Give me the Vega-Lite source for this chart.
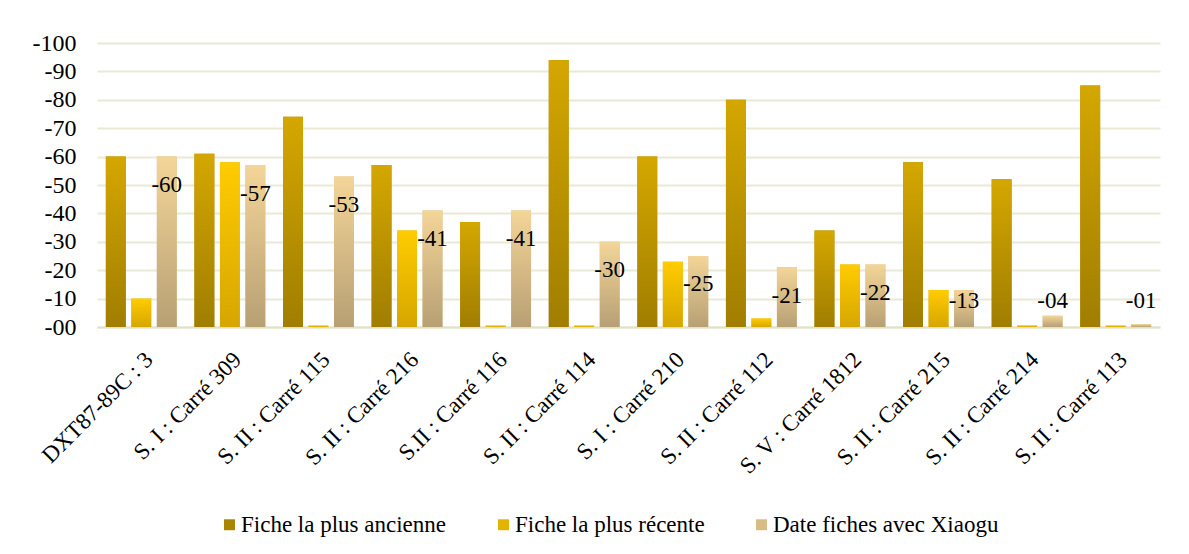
{
  "$schema": "https://vega.github.io/schema/vega-lite/v6.json",
  "width": 1063,
  "height": 284,
  "autosize": {"type": "none"},
  "padding": {"left": 97, "top": 43, "right": 29, "bottom": 227},
  "background": "white",
  "config": {
    "view": {"stroke": null},
    "font": "'Liberation Serif', 'Times New Roman', serif",
    "text": {"font": "'Liberation Serif', 'Times New Roman', serif"}
  },
  "data": {
    "values": [
      {"cat": "DXT87-89C : 3", "series": "Fiche la plus ancienne", "value": 60},
      {"cat": "DXT87-89C : 3", "series": "Fiche la plus récente", "value": 10},
      {"cat": "DXT87-89C : 3", "series": "Date fiches avec Xiaogu", "value": 60},
      {"cat": "S. I : Carré 309", "series": "Fiche la plus ancienne", "value": 61},
      {"cat": "S. I : Carré 309", "series": "Fiche la plus récente", "value": 58},
      {"cat": "S. I : Carré 309", "series": "Date fiches avec Xiaogu", "value": 57},
      {"cat": "S. II : Carré 115", "series": "Fiche la plus ancienne", "value": 74},
      {"cat": "S. II : Carré 115", "series": "Fiche la plus récente", "value": 0.5},
      {"cat": "S. II : Carré 115", "series": "Date fiches avec Xiaogu", "value": 53},
      {"cat": "S. II : Carré 216", "series": "Fiche la plus ancienne", "value": 57},
      {"cat": "S. II : Carré 216", "series": "Fiche la plus récente", "value": 34},
      {"cat": "S. II : Carré 216", "series": "Date fiches avec Xiaogu", "value": 41},
      {"cat": "S.II : Carré 116", "series": "Fiche la plus ancienne", "value": 37},
      {"cat": "S.II : Carré 116", "series": "Fiche la plus récente", "value": 0.5},
      {"cat": "S.II : Carré 116", "series": "Date fiches avec Xiaogu", "value": 41},
      {"cat": "S. II : Carré 114", "series": "Fiche la plus ancienne", "value": 94},
      {"cat": "S. II : Carré 114", "series": "Fiche la plus récente", "value": 0.5},
      {"cat": "S. II : Carré 114", "series": "Date fiches avec Xiaogu", "value": 30},
      {"cat": "S. I : Carré 210", "series": "Fiche la plus ancienne", "value": 60},
      {"cat": "S. I : Carré 210", "series": "Fiche la plus récente", "value": 23},
      {"cat": "S. I : Carré 210", "series": "Date fiches avec Xiaogu", "value": 25},
      {"cat": "S. II : Carré 112", "series": "Fiche la plus ancienne", "value": 80},
      {"cat": "S. II : Carré 112", "series": "Fiche la plus récente", "value": 3},
      {"cat": "S. II : Carré 112", "series": "Date fiches avec Xiaogu", "value": 21},
      {"cat": "S. V : Carré 1812", "series": "Fiche la plus ancienne", "value": 34},
      {"cat": "S. V : Carré 1812", "series": "Fiche la plus récente", "value": 22},
      {"cat": "S. V : Carré 1812", "series": "Date fiches avec Xiaogu", "value": 22},
      {"cat": "S. II : Carré 215", "series": "Fiche la plus ancienne", "value": 58},
      {"cat": "S. II : Carré 215", "series": "Fiche la plus récente", "value": 13},
      {"cat": "S. II : Carré 215", "series": "Date fiches avec Xiaogu", "value": 13},
      {"cat": "S. II : Carré 214", "series": "Fiche la plus ancienne", "value": 52},
      {"cat": "S. II : Carré 214", "series": "Fiche la plus récente", "value": 0.5},
      {"cat": "S. II : Carré 214", "series": "Date fiches avec Xiaogu", "value": 4},
      {"cat": "S. II : Carré 113", "series": "Fiche la plus ancienne", "value": 85},
      {"cat": "S. II : Carré 113", "series": "Fiche la plus récente", "value": 0.5},
      {"cat": "S. II : Carré 113", "series": "Date fiches avec Xiaogu", "value": 1}
    ]
  },
  "encoding": {
    "x": {
      "field": "cat", "type": "nominal", "sort": null, "title": null,
      "scale": {"paddingInner": 0.2, "paddingOuter": 0.1},
      "axis": {
        "labelAngle": -45, "labelFont": "'Liberation Serif', 'Times New Roman', serif", "labelFontSize": 23,
        "labelColor": "#000000", "labelPadding": 21, "ticks": false, "labelLimit": 0,
        "domainColor": "#E3E0C8", "domainWidth": 2, "labelAlign": "right", "labelBaseline": "top"
      }
    },
    "xOffset": {
      "field": "series", "type": "nominal", "sort": null,
      "scale": {"domain": ["Fiche la plus ancienne", "Fiche la plus récente", "Date fiches avec Xiaogu"], "paddingInner": 0.22, "paddingOuter": 0}
    },
    "y": {
      "field": "value", "type": "quantitative", "title": null,
      "scale": {"domain": [0, 100], "nice": false},
      "axis": {
        "values": [0, 10, 20, 30, 40, 50, 60, 70, 80, 90, 100],
        "labelExpr": "'-' + (datum.value < 10 ? '0' : '') + datum.value",
        "labelFont": "'Liberation Serif', 'Times New Roman', serif", "labelFontSize": 24, "labelColor": "#000000",
        "labelPadding": 21, "ticks": false, "domain": false,
        "gridColor": "#EAE9D6", "gridWidth": 2
      }
    }
  },
  "layer": [
    {
      "mark": {"type": "bar"},
      "encoding": {
        "color": {
          "field": "series", "type": "nominal", "sort": null,
          "scale": {
            "domain": ["Fiche la plus ancienne", "Fiche la plus récente", "Date fiches avec Xiaogu"],
            "range": ["#A98600", "#E3B300", "#D8BC86"]
          },
          "legend": {
            "orient": "none", "legendX": 121, "legendY": 470, "direction": "horizontal",
            "title": null, "labelFont": "'Liberation Serif', 'Times New Roman', serif", "labelFontSize": 23,
            "labelColor": "#000000", "symbolType": "square", "symbolSize": 120, "labelLimit": 0,
            "symbolStrokeWidth": 0, "columnPadding": 45, "labelOffset": 0, "padding": 0
          }
        }
      }
    },
    {
      "transform": [{"filter": "datum.series === 'Fiche la plus ancienne'"}],
      "mark": {"type": "bar", "color": {"gradient": "linear", "x1": 0, "y1": 0, "x2": 0, "y2": 1,
        "stops": [{"offset": 0, "color": "#D4A700"}, {"offset": 1, "color": "#A07E00"}]}},
      "encoding": {}
    },
    {
      "transform": [{"filter": "datum.series === 'Fiche la plus récente'"}],
      "mark": {"type": "bar", "color": {"gradient": "linear", "x1": 0, "y1": 0, "x2": 0, "y2": 1,
        "stops": [{"offset": 0, "color": "#FFCC00"}, {"offset": 1, "color": "#D6A600"}]}},
      "encoding": {}
    },
    {
      "transform": [{"filter": "datum.series === 'Date fiches avec Xiaogu'"}],
      "mark": {"type": "bar", "color": {"gradient": "linear", "x1": 0, "y1": 0, "x2": 0, "y2": 1,
        "stops": [{"offset": 0, "color": "#F3D598"}, {"offset": 1, "color": "#B8A074"}]}},
      "encoding": {}
    },
    {
      "transform": [
        {"filter": "datum.series === 'Date fiches avec Xiaogu'"},
        {"calculate": "max(datum.value - 10, 9)", "as": "labelPos"},
        {"calculate": "'-' + (datum.value < 10 ? '0' : '') + datum.value", "as": "label"}
      ],
      "mark": {"type": "text", "font": "'Liberation Serif', 'Times New Roman', serif", "fontSize": 23, "color": "#000000", "baseline": "middle", "align": "center"},
      "encoding": {
        "y": {"field": "labelPos", "type": "quantitative"},
        "text": {"field": "label"}
      }
    }
  ]
}
